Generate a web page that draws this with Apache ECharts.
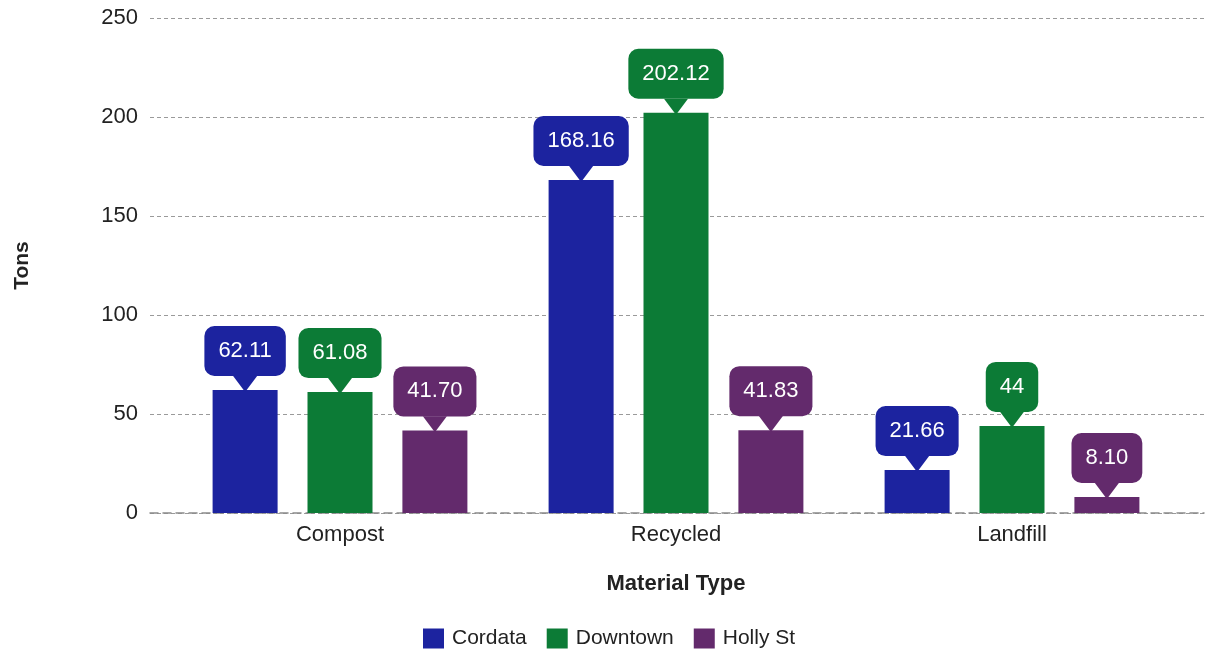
<!DOCTYPE html>
<html>
<head>
<meta charset="utf-8">
<script src="https://cdn.jsdelivr.net/npm/echarts@6/dist/echarts.min.js"></script>
<style>html,body{margin:0;padding:0;background:#fff;}#c{width:1206px;height:654px;}</style>
</head>
<body>
<div id="c"></div>
<script>
const categories = ['Compost', 'Recycled', 'Landfill'];
const seriesNames = ['Cordata', 'Downtown', 'Holly St'];
const cordata = [62.11, 168.16, 21.66];
const downtown = [61.08, 202.12, 44];
const hollySt = [41.70, 41.83, 8.10];
const labelText = [
  ['62.11', '168.16', '21.66'],
  ['61.08', '202.12', '44'],
  ['41.70', '41.83', '8.10']
];
const colors = ['#1c239f', '#0c7b36', '#632a6c'];
const font = 'Arial, "Liberation Sans", sans-serif';

const chart = echarts.init(document.getElementById('c'), null, {renderer: 'canvas'});
const values = [cordata, downtown, hollySt];

function makeBar(i) {
  return {
    name: seriesNames[i],
    type: 'bar',
    xAxisIndex: 1,
    yAxisIndex: 1,
    barWidth: 65,
    barGap: '46%',
    data: values[i],
    itemStyle: {color: colors[i]},
    z: 2,
    label: {
      show: true,
      position: 'top',
      distance: 27,
      formatter: p => '{box|' + labelText[i][p.dataIndex] + '}',
      rich: {
        box: {
          backgroundColor: colors[i],
          borderRadius: 10,
          padding: [14, 14, 14, 14],
          color: '#fff',
          fontSize: 22,
          fontFamily: font,
          lineHeight: 24
        }
      }
    }
  };
}

function makeArrow(i) {
  return {
    name: seriesNames[i] + ' pointer',
    type: 'pictorialBar',
    xAxisIndex: 1,
    yAxisIndex: 1,
    barWidth: 65,
    barGap: '46%',
    data: values[i],
    symbol: 'triangle',
    symbolRotate: 180,
    symbolSize: [24, 16],
    symbolPosition: 'end',
    symbolOffset: [0, '-88%'],
    itemStyle: {color: colors[i]},
    z: 3,
    silent: true
  };
}

chart.setOption({
  animation: false,
  textStyle: {fontFamily: font},
  legend: {
    bottom: 0,
    left: 418,
    itemWidth: 21,
    itemHeight: 20,
    itemGap: 20,
    icon: 'rect',
    textStyle: {fontSize: 21, color: '#222', fontFamily: font, padding: [0, 0, 0, 3]},
    data: seriesNames
  },
  grid: [
    {left: 150, right: 2, top: 18, bottom: 141},
    {left: 172, right: 26, top: 18, bottom: 141}
  ],
  xAxis: [
    {
      type: 'value', gridIndex: 0, min: 0, max: 1,
      axisLabel: {show: false}, axisTick: {show: false}, splitLine: {show: false},
      axisLine: {show: true, lineStyle: {color: '#8a8a8a', type: [8, 5], width: 1.5}}
    },
    {
      type: 'category', gridIndex: 1, data: categories,
      axisLine: {show: false}, axisTick: {show: false},
      axisLabel: {fontSize: 22, color: '#222', margin: 11, fontFamily: font},
      name: 'Material Type', nameLocation: 'middle', nameGap: 60,
      nameTextStyle: {fontSize: 22, fontWeight: 'bold', color: '#222', fontFamily: font}
    }
  ],
  yAxis: [
    {
      type: 'value', gridIndex: 0, min: 0, max: 250, interval: 50,
      axisLine: {show: false}, axisTick: {show: false},
      axisLabel: {fontSize: 22, color: '#222', margin: 12, fontFamily: font},
      splitLine: {lineStyle: {color: '#9a9a9a', type: [4, 3], width: 1.2}},
      name: 'Tons', nameLocation: 'middle', nameGap: 117, nameRotate: 90,
      nameTextStyle: {fontSize: 21, fontWeight: 'bold', color: '#222', fontFamily: font}
    },
    {
      type: 'value', gridIndex: 1, min: 0, max: 250, interval: 50,
      show: false, splitLine: {show: false}
    }
  ],
  series: [makeBar(0), makeBar(1), makeBar(2), makeArrow(0), makeArrow(1), makeArrow(2)]
});
</script>
</body>
</html>
